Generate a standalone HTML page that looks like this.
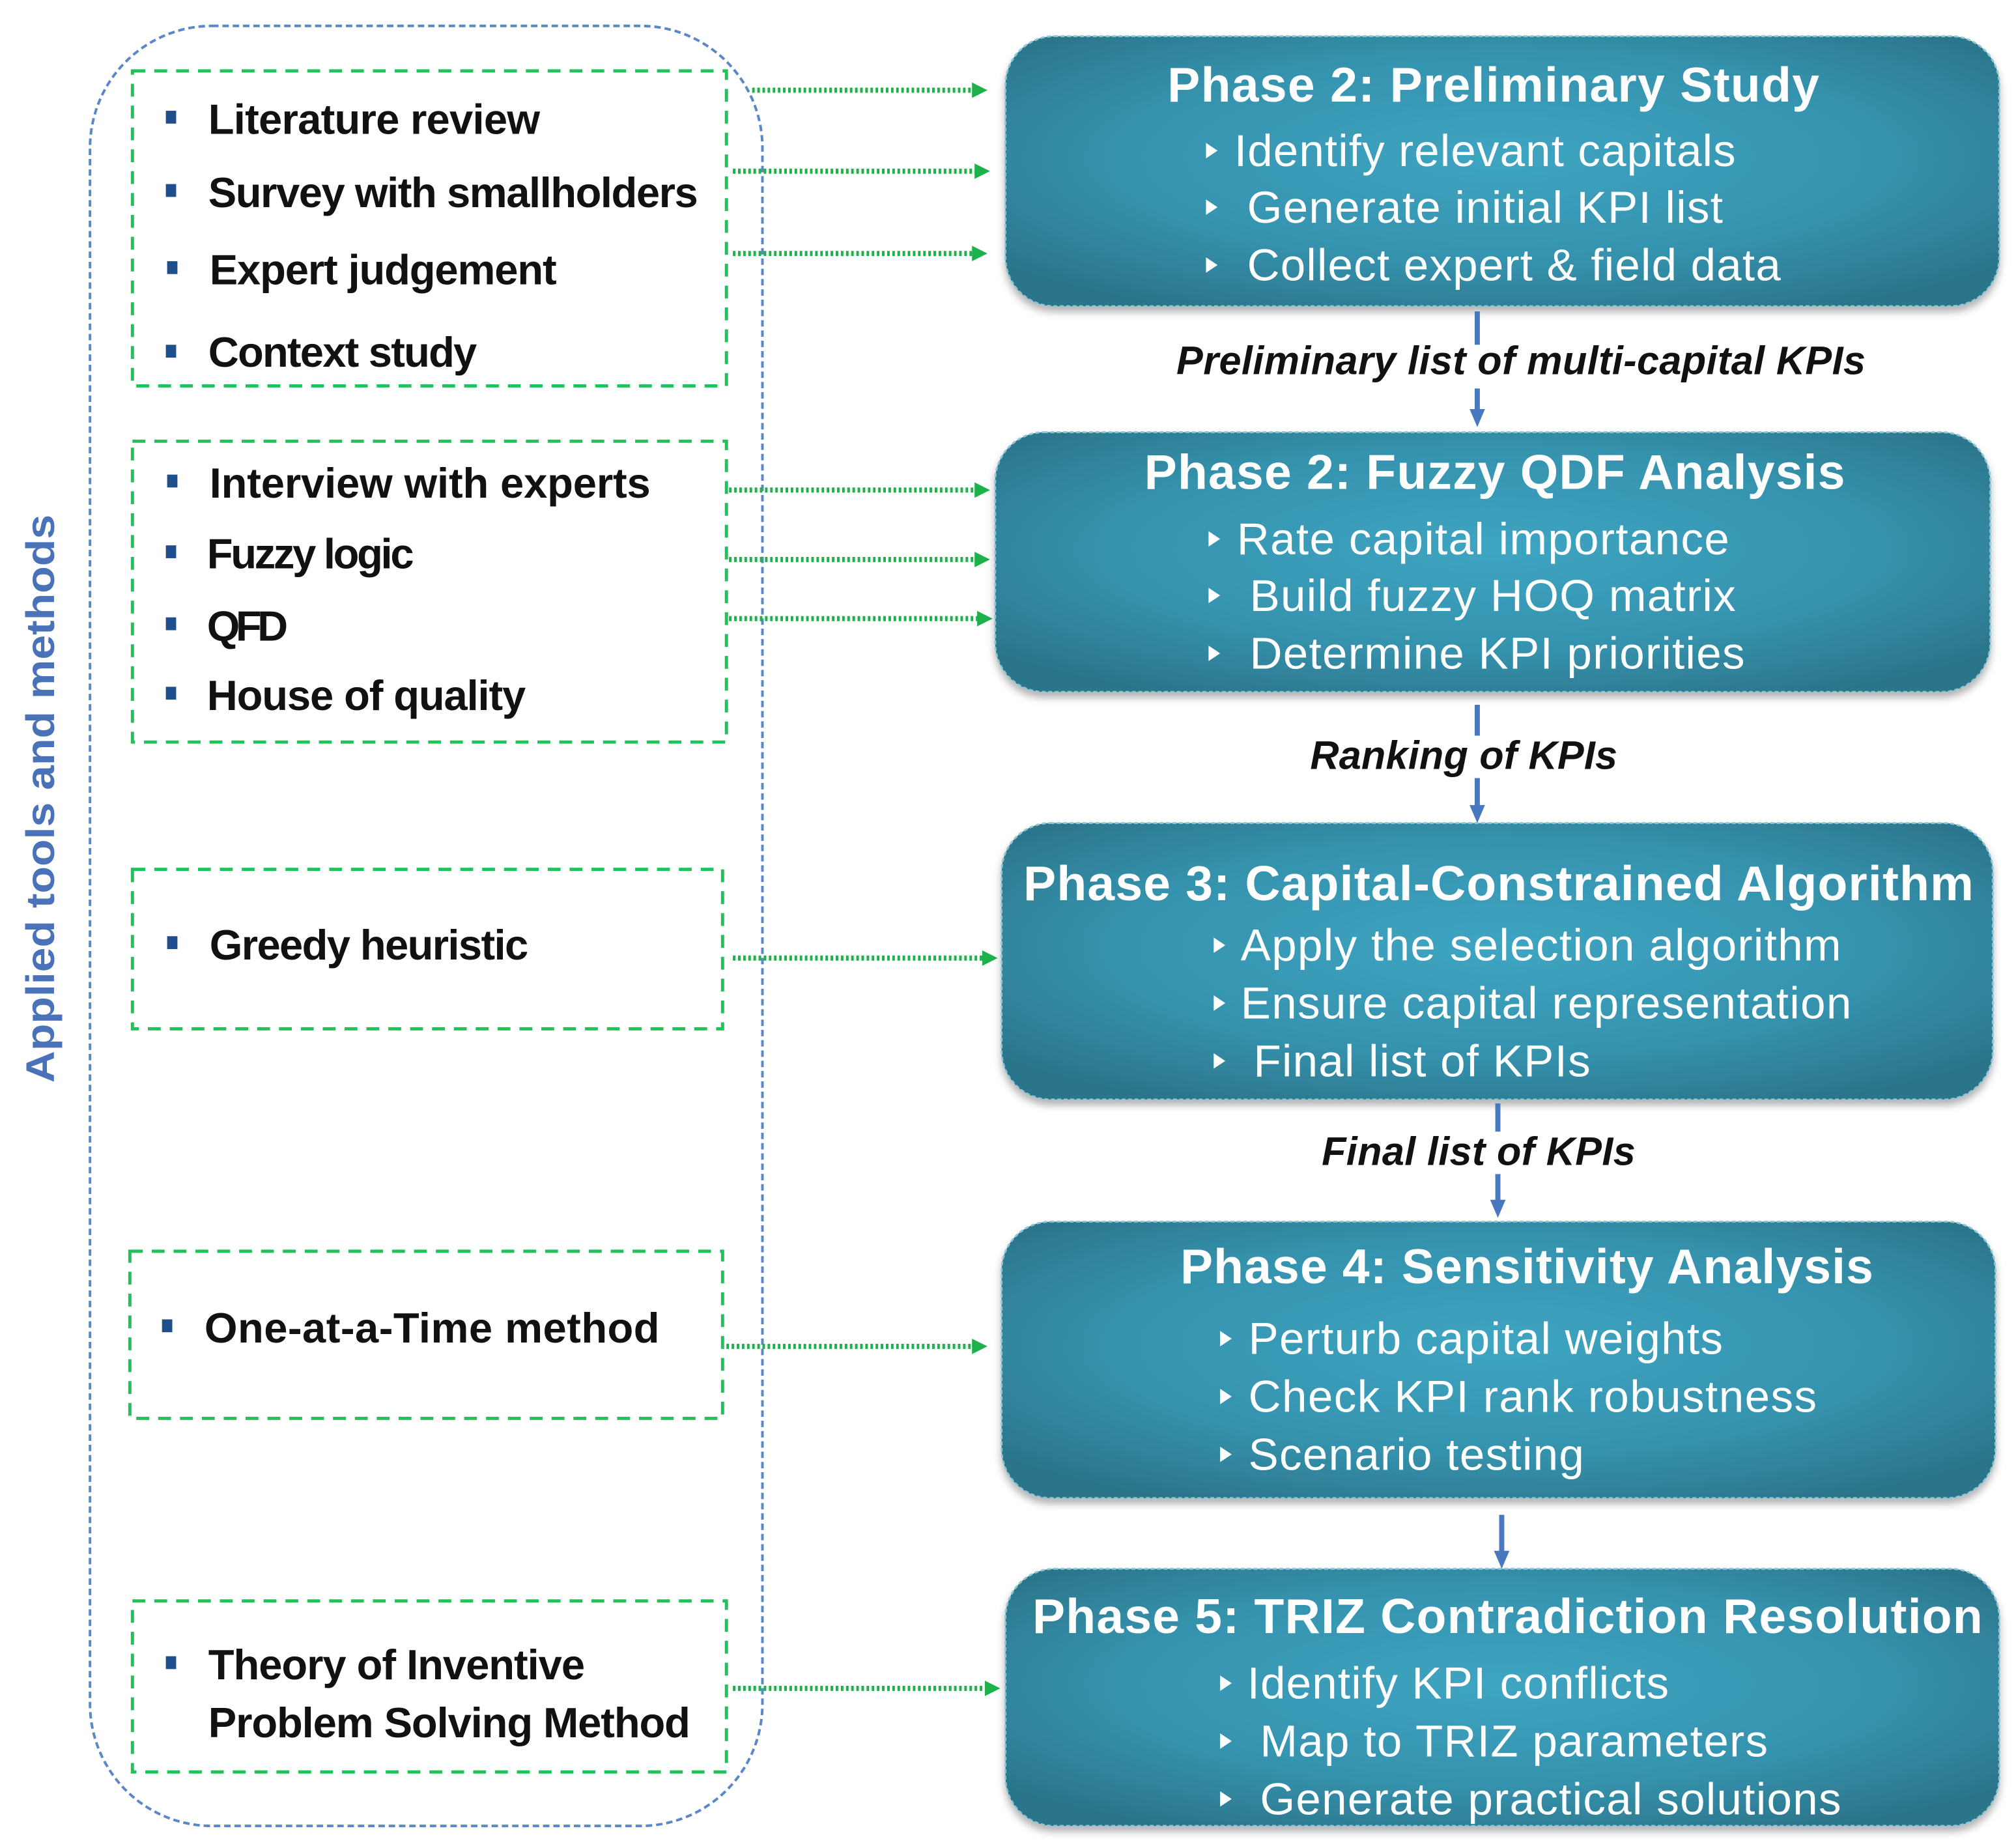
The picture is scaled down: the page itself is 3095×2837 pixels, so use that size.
<!DOCTYPE html>
<html><head><meta charset="utf-8"><style>html,body{margin:0;padding:0;background:#fff}svg{display:block}</style></head>
<body>
<svg width="3095" height="2837" viewBox="0 0 1568 1437" xmlns="http://www.w3.org/2000/svg" font-family="'Liberation Sans', sans-serif">
<defs>
<radialGradient id="g" cx="0.5" cy="0.45" r="0.65">
<stop offset="0" stop-color="#3ea5c2"/><stop offset="0.6" stop-color="#3592ad"/><stop offset="1" stop-color="#2b7489"/>
</radialGradient>
<filter id="sh" x="-5%" y="-10%" width="110%" height="125%"><feDropShadow dx="0" dy="4" stdDeviation="3" flood-color="#000" flood-opacity="0.3"/></filter>
<marker id="ga" markerWidth="12" markerHeight="12" refX="8" refY="6" orient="auto" markerUnits="userSpaceOnUse"><path d="M0,0 L12,6 L0,12 z" fill="#1db14b"/></marker>
</defs>

<rect x="70" y="20" width="523" height="1400" rx="95" fill="none" stroke="#5b86c8" stroke-width="2" stroke-dasharray="5,3"/>
<text transform="translate(42,621) rotate(-90)" text-anchor="middle" font-size="31" font-weight="bold" fill="#4a72b8" textLength="442" lengthAdjust="spacingAndGlyphs">Applied tools and methods</text>

<g fill="none" stroke="#1fc35a" stroke-width="2.5" stroke-dasharray="10,7">
<rect x="103" y="55" width="462" height="245"/>
<rect x="103" y="343" width="462" height="234"/>
<rect x="103" y="676" width="459" height="124"/>
<rect x="101" y="973" width="461" height="130"/>
<rect x="103" y="1245" width="462" height="133"/>
</g>

<g fill="#1f4e8c">
<rect x="129" y="86" width="8" height="10"/><rect x="129" y="143" width="8" height="10"/><rect x="130" y="203" width="8" height="10"/><rect x="129" y="268" width="8" height="10"/>
<rect x="130" y="369" width="8" height="10"/><rect x="129" y="424" width="8" height="10"/><rect x="129" y="480" width="8" height="10"/><rect x="129" y="534" width="8" height="10"/>
<rect x="130" y="728" width="8" height="10"/><rect x="126" y="1026" width="8" height="10"/><rect x="129" y="1288" width="8" height="10"/>
</g>
<g font-size="33" font-weight="bold" fill="#111" lengthAdjust="spacingAndGlyphs">
<text x="162" y="104" textLength="258">Literature review</text>
<text x="162" y="161" textLength="381">Survey with smallholders</text>
<text x="163" y="221" textLength="270">Expert judgement</text>
<text x="162" y="285" textLength="209">Context study</text>
<text x="163" y="387" textLength="343">Interview with experts</text>
<text x="161" y="442" textLength="161">Fuzzy logic</text>
<text x="161" y="498" textLength="63">QFD</text>
<text x="161" y="552" textLength="248">House of quality</text>
<text x="163" y="746" textLength="248">Greedy heuristic</text>
<text x="159" y="1044" textLength="354">One-at-a-Time  method</text>
<text x="162" y="1306" textLength="293">Theory of Inventive</text>
<text x="162" y="1351" textLength="375">Problem Solving Method</text>
</g>

<g stroke="#1db14b" stroke-width="4" stroke-dasharray="2,2" marker-end="url(#ga)">
<line x1="585" y1="70" x2="764" y2="70"/>
<line x1="570" y1="133" x2="766" y2="133"/>
<line x1="570" y1="197" x2="764" y2="197"/>
<line x1="567" y1="381" x2="766" y2="381"/>
<line x1="567" y1="435" x2="766" y2="435"/>
<line x1="567" y1="481" x2="768" y2="481"/>
<line x1="570" y1="745" x2="772" y2="745"/>
<line x1="565" y1="1047" x2="764" y2="1047"/>
<line x1="570" y1="1313" x2="774" y2="1313"/>
</g>

<g filter="url(#sh)" fill="url(#g)" stroke="#8fc6d6" stroke-width="1.5" stroke-dasharray="3,2">
<rect x="782" y="28" width="773" height="210" rx="38"/>
<rect x="774" y="336" width="774" height="202" rx="38"/>
<rect x="779" y="640" width="771" height="215" rx="38"/>
<rect x="779" y="950" width="773" height="215" rx="38"/>
<rect x="782" y="1220" width="773" height="200" rx="38"/>
</g>

<g fill="#fff" font-weight="bold" font-size="38" lengthAdjust="spacingAndGlyphs">
<text x="908" y="79" textLength="507">Phase 2: Preliminary Study</text>
<text x="890" y="380" textLength="545">Phase 2: Fuzzy QDF Analysis</text>
<text x="796" y="700" textLength="739">Phase 3: Capital-Constrained Algorithm</text>
<text x="918" y="998" textLength="539">Phase 4: Sensitivity Analysis</text>
<text x="803" y="1270" textLength="739">Phase 5: TRIZ Contradiction Resolution</text>
</g>
<g fill="#fff" font-size="35" lengthAdjust="spacingAndGlyphs">
<text x="960" y="129" textLength="390">Identify relevant capitals</text>
<text x="970" y="173" textLength="370">Generate initial KPI list</text>
<text x="970" y="218" textLength="415">Collect expert &amp; field data</text>
<text x="962" y="431" textLength="383">Rate capital importance</text>
<text x="972" y="475" textLength="378">Build fuzzy HOQ matrix</text>
<text x="972" y="520" textLength="385">Determine KPI priorities</text>
<text x="965" y="747" textLength="467">Apply the selection algorithm</text>
<text x="965" y="792" textLength="475">Ensure capital representation</text>
<text x="975" y="837" textLength="262">Final list of KPIs</text>
<text x="971" y="1053" textLength="369">Perturb capital weights</text>
<text x="971" y="1098" textLength="442">Check KPI rank robustness</text>
<text x="971" y="1143" textLength="261">Scenario testing</text>
<text x="970" y="1321" textLength="328">Identify KPI conflicts</text>
<text x="980" y="1366" textLength="395">Map to TRIZ parameters</text>
<text x="980" y="1411" textLength="452">Generate practical solutions</text>
</g>
<g fill="#fff">
<path d="M938,111 l9,6 l-9,6z"/><path d="M938,155 l9,6 l-9,6z"/><path d="M938,200 l9,6 l-9,6z"/>
<path d="M940,413 l9,6 l-9,6z"/><path d="M940,457 l9,6 l-9,6z"/><path d="M940,502 l9,6 l-9,6z"/>
<path d="M944,729 l9,6 l-9,6z"/><path d="M944,774 l9,6 l-9,6z"/><path d="M944,819 l9,6 l-9,6z"/>
<path d="M949,1035 l9,6 l-9,6z"/><path d="M949,1080 l9,6 l-9,6z"/><path d="M949,1125 l9,6 l-9,6z"/>
<path d="M949,1303 l9,6 l-9,6z"/><path d="M949,1348 l9,6 l-9,6z"/><path d="M949,1393 l9,6 l-9,6z"/>
</g>

<g stroke="#4a78c0" stroke-width="4">
<line x1="1149" y1="242" x2="1149" y2="268"/>
<line x1="1149" y1="302" x2="1149" y2="320"/>
<line x1="1149" y1="548" x2="1149" y2="572"/>
<line x1="1149" y1="605" x2="1149" y2="628"/>
<line x1="1165" y1="858" x2="1165" y2="880"/>
<line x1="1165" y1="913" x2="1165" y2="935"/>
<line x1="1168" y1="1178" x2="1168" y2="1208"/>
</g>
<g fill="#4a78c0">
<path d="M1143,318 l12,0 l-6,14z"/><path d="M1143,626 l12,0 l-6,14z"/><path d="M1159,933 l12,0 l-6,14z"/><path d="M1162,1206 l12,0 l-6,14z"/>
</g>
<g font-size="31" font-weight="bold" font-style="italic" fill="#111" lengthAdjust="spacingAndGlyphs">
<text x="915" y="291" textLength="536">Preliminary list of multi-capital KPIs</text>
<text x="1019" y="598" textLength="239">Ranking of KPIs</text>
<text x="1028" y="906" textLength="244">Final list of KPIs</text>
</g>
</svg>
</body></html>
